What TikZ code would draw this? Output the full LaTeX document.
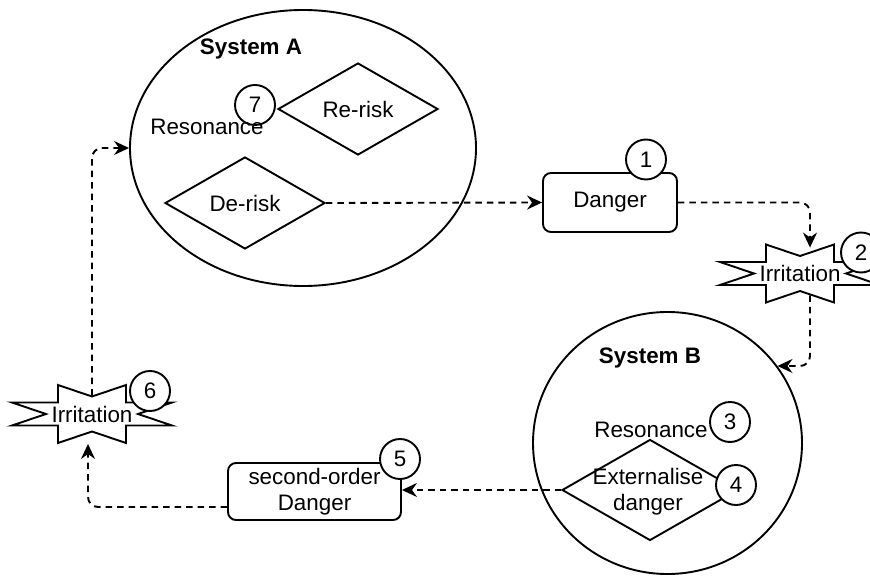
\documentclass[tikz,border=0pt]{standalone}
\usepackage{fontspec}
\setmainfont{Liberation Sans}
\usetikzlibrary{shapes.geometric,arrows.meta,calc}

% Outline of an "Irritation" burst around a named node (units: px, y down)
\newcommand\burstoutline[1]{%
  \draw[shift={(#1.center)}, line join=miter]
    (-34,-29) -- (0,-17.5) -- (34,-29) -- (34,-11.5) -- (80,-11.5) -- (46,0)
    -- (80,11.5) -- (34,11.5) -- (34,29) -- (0,17.5) -- (-34,29) -- (-34,11.5)
    -- (-80,11.5) -- (-46,0) -- (-80,-11.5) -- (-34,-11.5) -- cycle;}

\begin{document}
\begin{tikzpicture}[x=0.5pt,y=-0.5pt,
  line width=0.95pt,
  every node/.style={font=\fontsize{11.2}{13.2}\selectfont, inner sep=0pt},
  title/.style={font=\fontsize{11.2}{13.2}\selectfont\bfseries},
  system/.style={ellipse, draw},
  choice/.style={diamond, draw},
  item/.style={rectangle, draw, rounded corners=4pt, align=center},
  marker/.style={circle, draw, fill=white, minimum size=20pt},
  burst/.style={rectangle, minimum width=80pt, minimum height=29pt},
  flow/.style={draw, dash pattern=on 3.25pt off 2.5pt, rounded corners=5pt,
    -{Stealth[length=7.5pt, width=7pt, inset=2.5pt]}}
]
\clip (0,0) rectangle (870,576);

% System A
\node[system, minimum width=173pt, minimum height=138pt] (sysA) at (303,148) {};
\node[title] (sysA-title) at (251,49) {System A};
\node[choice, minimum width=80pt, minimum height=46pt] (rerisk) at (358,109) {};
\node (rerisk-t) at (rerisk) {Re-risk};
\node[choice, minimum width=80pt, minimum height=46pt] (derisk) at (245,203) {};
\node (derisk-t) at (derisk) {De-risk};
\node[marker] (m7) at (255,105) {7};
\node (resA) at (207,127) {Resonance};

% Danger
\node[item, minimum width=67pt, minimum height=29.5pt] (danger) at (610,202.5) {Danger};
\node[marker] (m1) at (646,159.5) {1};

% Irritation (right)
\node[burst] (irr2) at (800,273.5) {Irritation};
\burstoutline{irr2}
\node[marker] (m2) at (861,252.5) {2};

% System B
\node[system, minimum width=134.5pt, minimum height=131pt] (sysB) at (667.5,443) {};
\node[title] (sysB-title) at (650,358) {System B};
\node[choice, minimum width=88pt, minimum height=50.5pt] (ext) at (650,490) {};
\node[marker] (m3) at (730,422) {3};
\node[marker] (m4) at (736,485) {4};
\node (resB) at (651,430) {Resonance};
\node[align=center] (ext-t) at (648,491.5) {Externalise\\danger};

% second-order Danger
\node[item, minimum width=86.5pt, minimum height=28.5pt] (sod) at (314.5,491.5) {second-order\\Danger};
\node[marker] (m5) at (400,459) {5};

% Irritation (left)
\node[burst] (irr6) at (92,414) {Irritation};
\burstoutline{irr6}
\node[marker] (m6) at (150,391) {6};

% Flow of irritations between the systems
\draw[flow] (derisk.east) -- (danger.west);
\draw[flow] (danger.east) -| ([xshift=5pt,yshift=-2pt]irr2.north);
\draw[flow] ([xshift=5pt,yshift=4pt]irr2.south) |- (sysB.35);
\draw[flow] (ext.west) -- (ext.west -| sod.east);
\draw[flow] ([yshift=-7.75pt]sod.west) -| ([xshift=-2pt]irr6.south);
\draw[flow] ([yshift=-5.75pt]irr6.north) |- (sysA.west);
\end{tikzpicture}
\end{document}
